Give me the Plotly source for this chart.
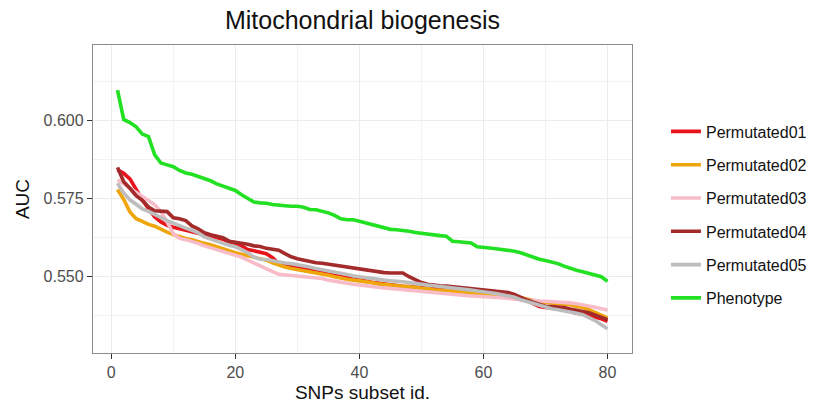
import plotly.graph_objects as go

subset_id = list(range(1, 81))

permutated01 = [
    0.5842, 0.5831, 0.5813, 0.5778, 0.5746, 0.5717, 0.5691, 0.5675, 0.5664, 0.5658,
    0.5653, 0.5648, 0.5643, 0.5637, 0.5632, 0.5628, 0.5624, 0.5619, 0.5611, 0.5606,
    0.5598, 0.5586, 0.5582, 0.5578, 0.5573, 0.5560, 0.5541, 0.5536, 0.5533, 0.5530,
    0.5526, 0.5521, 0.5518, 0.5513, 0.5507, 0.5504, 0.5501, 0.5496, 0.5491, 0.5489,
    0.5485, 0.5481, 0.5478, 0.5475, 0.5473, 0.5470, 0.5468, 0.5467, 0.5465, 0.5463,
    0.5461, 0.5460, 0.5457, 0.5456, 0.5454, 0.5453, 0.5451, 0.5449, 0.5448, 0.5446,
    0.5444, 0.5443, 0.5441, 0.5438, 0.5433, 0.5429, 0.5422, 0.5412, 0.5403, 0.5400,
    0.5399, 0.5398, 0.5393, 0.5387, 0.5382, 0.5379, 0.5374, 0.5369, 0.5364, 0.5356,
]

permutated02 = [
    0.5779, 0.5747, 0.5707, 0.5685, 0.5677, 0.5667, 0.5661, 0.5650, 0.5642, 0.5634,
    0.5627, 0.5622, 0.5618, 0.5611, 0.5606, 0.5602, 0.5595, 0.5589, 0.5582, 0.5576,
    0.5571, 0.5566, 0.5562, 0.5557, 0.5552, 0.5544, 0.5536, 0.5530, 0.5525, 0.5522,
    0.5518, 0.5515, 0.5512, 0.5507, 0.5504, 0.5499, 0.5494, 0.5491, 0.5488, 0.5486,
    0.5483, 0.5480, 0.5476, 0.5473, 0.5472, 0.5470, 0.5469, 0.5467, 0.5465, 0.5462,
    0.5461, 0.5457, 0.5456, 0.5454, 0.5453, 0.5451, 0.5449, 0.5448, 0.5446, 0.5443,
    0.5441, 0.5440, 0.5438, 0.5436, 0.5435, 0.5432, 0.5427, 0.5422, 0.5419, 0.5416,
    0.5414, 0.5412, 0.5411, 0.5409, 0.5404, 0.5400, 0.5393, 0.5385, 0.5376, 0.5367,
]

permutated03 = [
    0.5810, 0.5797, 0.5784, 0.5771, 0.5755, 0.5743, 0.5730, 0.5707, 0.5675, 0.5637,
    0.5622, 0.5618, 0.5613, 0.5606, 0.5598, 0.5592, 0.5586, 0.5579, 0.5574, 0.5568,
    0.5562, 0.5552, 0.5542, 0.5533, 0.5523, 0.5515, 0.5507, 0.5505, 0.5504, 0.5502,
    0.5501, 0.5499, 0.5496, 0.5493, 0.5488, 0.5484, 0.5481, 0.5478, 0.5475, 0.5472,
    0.5469, 0.5467, 0.5465, 0.5463, 0.5461, 0.5458, 0.5456, 0.5454, 0.5453, 0.5451,
    0.5449, 0.5448, 0.5446, 0.5443, 0.5441, 0.5440, 0.5438, 0.5437, 0.5436, 0.5435,
    0.5433, 0.5432, 0.5431, 0.5430, 0.5427, 0.5425, 0.5424, 0.5422, 0.5421, 0.5420,
    0.5419, 0.5418, 0.5417, 0.5415, 0.5412, 0.5409, 0.5406, 0.5401, 0.5396, 0.5392,
]

permutated04 = [
    0.5850, 0.5804, 0.5783, 0.5759, 0.5744, 0.5723, 0.5711, 0.5709, 0.5708, 0.5688,
    0.5685, 0.5679, 0.5662, 0.5653, 0.5640, 0.5634, 0.5629, 0.5624, 0.5613, 0.5610,
    0.5607, 0.5603, 0.5598, 0.5596, 0.5590, 0.5586, 0.5584, 0.5573, 0.5563, 0.5557,
    0.5552, 0.5548, 0.5544, 0.5542, 0.5539, 0.5534, 0.5531, 0.5528, 0.5525, 0.5523,
    0.5520, 0.5517, 0.5513, 0.5512, 0.5511, 0.5511, 0.5511, 0.5499, 0.5489, 0.5480,
    0.5475, 0.5472, 0.5470, 0.5469, 0.5467, 0.5466, 0.5464, 0.5461, 0.5458, 0.5456,
    0.5455, 0.5454, 0.5452, 0.5448, 0.5442, 0.5432, 0.5424, 0.5417, 0.5409, 0.5404,
    0.5403, 0.5402, 0.5400, 0.5395, 0.5390, 0.5387, 0.5383, 0.5376, 0.5369, 0.5361,
]

permutated05 = [
    0.5799, 0.5768, 0.5746, 0.5730, 0.5717, 0.5709, 0.5698, 0.5688, 0.5679, 0.5671,
    0.5662, 0.5655, 0.5648, 0.5640, 0.5627, 0.5619, 0.5614, 0.5606, 0.5600, 0.5595,
    0.5586, 0.5576, 0.5562, 0.5555, 0.5554, 0.5550, 0.5547, 0.5543, 0.5541, 0.5538,
    0.5534, 0.5530, 0.5525, 0.5521, 0.5517, 0.5512, 0.5509, 0.5505, 0.5502, 0.5499,
    0.5496, 0.5493, 0.5489, 0.5488, 0.5486, 0.5485, 0.5483, 0.5480, 0.5477, 0.5473,
    0.5472, 0.5470, 0.5468, 0.5465, 0.5462, 0.5460, 0.5459, 0.5456, 0.5453, 0.5451,
    0.5448, 0.5445, 0.5441, 0.5438, 0.5433, 0.5425, 0.5419, 0.5413, 0.5406, 0.5401,
    0.5396, 0.5393, 0.5390, 0.5385, 0.5382, 0.5377, 0.5369, 0.5358, 0.5345, 0.5332,
]

phenotype = [
    0.6098, 0.6004, 0.5994, 0.5980, 0.5957, 0.5949, 0.5890, 0.5864, 0.5858, 0.5852,
    0.5840, 0.5832, 0.5828, 0.5821, 0.5815, 0.5807, 0.5797, 0.5789, 0.5783, 0.5776,
    0.5762, 0.5749, 0.5739, 0.5736, 0.5735, 0.5731, 0.5728, 0.5727, 0.5725, 0.5725,
    0.5722, 0.5715, 0.5714, 0.5709, 0.5704, 0.5696, 0.5685, 0.5682, 0.5682, 0.5677,
    0.5672, 0.5666, 0.5661, 0.5656, 0.5651, 0.5650, 0.5648, 0.5645, 0.5641, 0.5638,
    0.5636, 0.5634, 0.5631, 0.5629, 0.5613, 0.5611, 0.5610, 0.5607, 0.5595, 0.5592,
    0.5591, 0.5589, 0.5587, 0.5584, 0.5581, 0.5576, 0.5568, 0.5560, 0.5555, 0.5551,
    0.5547, 0.5541, 0.5533, 0.5525, 0.5520, 0.5515, 0.5510, 0.5505, 0.5499, 0.5484,
]

series_names = ["Permutated01", "Permutated02", "Permutated03",
                "Permutated04", "Permutated05", "Phenotype"]
series_values = [permutated01, permutated02, permutated03,
                 permutated04, permutated05, phenotype]
series_colors = ["#E8141B", "#EEA60C", "#F7BCC8", "#A32B2B", "#BDBDBD", "#22E022"]

x_ticks = [0, 20, 40, 60, 80]
y_ticks = [0.550, 0.575, 0.600]

FONT = "Liberation Sans, Arial, sans-serif"

fig = go.Figure()
for name, vals, col in zip(series_names, series_values, series_colors):
    fig.add_trace(go.Scatter(
        x=subset_id, y=vals, mode="lines", name=name,
        legendgroup=name,
        line=dict(color=col, width=3.6),
    ))

fig.update_layout(
    width=823, height=403,
    margin=dict(l=93, r=191, t=45, b=50, autoexpand=False),
    paper_bgcolor="white", plot_bgcolor="white",
    font=dict(family=FONT, color="#1a1a1a"),
    title=dict(text="Mitochondrial biogenesis", x=0.5, xref="paper",
               xanchor="center", y=1 - 20 / 403, yref="container",
               yanchor="middle", font=dict(size=25, color="#111111")),
    legend=dict(x=1.063, xanchor="left", y=0.448, yanchor="middle",
                font=dict(size=16, color="#111111"), tracegroupgap=9.5,
                bgcolor="rgba(0,0,0,0)"),
    showlegend=True,
)

fig.update_xaxes(
    range=[-2.95, 83.95], tickvals=x_ticks, ticktext=[str(v) for v in x_ticks],
    automargin=False,
    showgrid=True, gridcolor="#EBEBEB", gridwidth=1.4,
    minor=dict(dtick=10, tick0=0, showgrid=True, gridcolor="#F2F2F2", gridwidth=0.9),
    zeroline=False,
    showline=True, mirror=True, linecolor="#8C8C8C", linewidth=1.3,
    ticks="outside", ticklen=5, tickwidth=1.4, tickcolor="#333333",
    tickfont=dict(size=16, color="#4D4D4D"),
    title=dict(text="SNPs subset id.", font=dict(size=19, color="#111111"), standoff=8),
)
fig.update_yaxes(
    range=[0.5254, 0.6243], tickvals=y_ticks, ticktext=["%.3f" % v for v in y_ticks],
    automargin=False,
    showgrid=True, gridcolor="#EBEBEB", gridwidth=1.4,
    minor=dict(tickvals=[0.5375, 0.5625, 0.5875, 0.6125], showgrid=True,
               gridcolor="#F2F2F2", gridwidth=0.9),
    zeroline=False,
    showline=True, mirror=True, linecolor="#8C8C8C", linewidth=1.3,
    ticks="outside", ticklen=5, tickwidth=1.4, tickcolor="#333333",
    tickfont=dict(size=16, color="#4D4D4D"),
    title=dict(text="AUC", font=dict(size=19, color="#111111"), standoff=8),
)

fig.write_html("out.html")
